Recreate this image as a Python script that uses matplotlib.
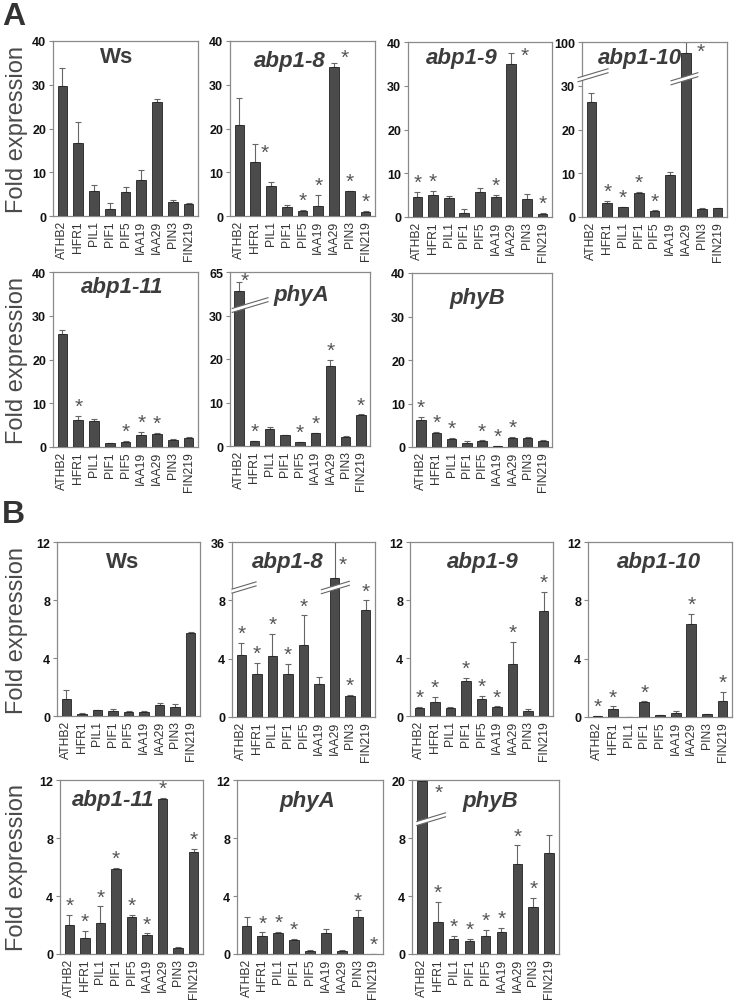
import matplotlib

matplotlib.use("Agg")
import matplotlib.pyplot as plt
import matplotlib.transforms as mtransforms
import numpy as np

plt.rcParams["font.family"] = ["Liberation Sans", "DejaVu Sans"]

genes = ["ATHB2", "HFR1", "PIL1", "PIF1", "PIF5", "IAA19", "IAA29", "PIN3", "FIN219"]

# star codes: 0 none, 1 above the bar, 2 placed beside the bar top
# --- panel A -------------------------------------------------------------------
a_ws_val = [29.8, 16.6, 5.7, 1.5, 5.5, 8.3, 26.0, 3.1, 2.8]
a_ws_sd = [4.1, 4.9, 1.4, 1.4, 1.1, 2.2, 0.8, 0.6, 0.1]
a_ws_star = [0, 0, 0, 0, 0, 0, 0, 0, 0]

a_abp18_val = [20.7, 12.4, 6.9, 2.1, 1.1, 2.3, 34.0, 5.7, 1.0]
a_abp18_sd = [6.3, 4.1, 0.9, 0.4, 0.2, 2.5, 0.9, 0.1, 0.1]
a_abp18_star = [0, 2, 0, 0, 1, 1, 2, 1, 1]

a_abp19_val = [4.5, 5.0, 4.4, 0.9, 5.7, 4.6, 35.0, 4.2, 0.8]
a_abp19_sd = [1.2, 1.0, 0.3, 0.9, 0.9, 0.4, 2.6, 1.0, 0.1]
a_abp19_star = [1, 1, 0, 0, 0, 1, 2, 0, 1]

a_abp110_val = [26.2, 3.1, 2.2, 5.5, 1.4, 9.5, 82.0, 1.9, 2.0]
a_abp110_sd = [2.2, 0.6, 0.2, 0.2, 0.1, 0.9, 18.0, 0.1, 0.1]
a_abp110_star = [0, 1, 1, 1, 1, 0, 2, 0, 0]

a_abp111_val = [25.8, 6.2, 6.0, 0.9, 1.1, 2.7, 3.0, 1.6, 2.0]
a_abp111_sd = [1.0, 0.9, 0.3, 0.1, 0.3, 0.7, 0.3, 0.3, 0.4]
a_abp111_star = [0, 1, 0, 0, 1, 1, 1, 0, 0]

a_phya_val = [50.0, 1.15, 4.0, 2.5, 0.85, 2.9, 18.4, 2.1, 7.1]
a_phya_sd = [7.3, 0.1, 0.35, 0.05, 0.05, 0.1, 1.4, 0.2, 0.15]
a_phya_star = [2, 1, 0, 0, 1, 1, 1, 0, 1]

a_phyb_val = [6.1, 3.3, 1.9, 0.9, 1.4, 0.2, 2.1, 2.1, 1.4]
a_phyb_sd = [0.8, 0.15, 0.2, 0.4, 0.1, 0.05, 0.2, 0.2, 0.1]
a_phyb_star = [1, 1, 1, 0, 1, 1, 1, 0, 0]

# --- panel B -------------------------------------------------------------------
b_ws_val = [1.14, 0.16, 0.39, 0.37, 0.30, 0.30, 0.73, 0.64, 5.71]
b_ws_sd = [0.62, 0.02, 0.02, 0.11, 0.07, 0.04, 0.18, 0.16, 0.07]
b_ws_star = [0, 0, 0, 0, 0, 0, 0, 0, 0]

b_abp18_val = [4.27, 2.97, 4.18, 2.97, 4.91, 2.29, 18.9, 1.44, 7.36]
b_abp18_sd = [0.80, 0.73, 1.52, 0.66, 2.06, 0.45, 17.1, 0.05, 0.64]
b_abp18_star = [1, 1, 1, 1, 1, 0, 2, 1, 1]

b_abp19_val = [0.53, 0.96, 0.57, 2.40, 1.14, 0.62, 3.61, 0.37, 7.27]
b_abp19_sd = [0.09, 0.37, 0.07, 0.23, 0.23, 0.04, 1.49, 0.09, 1.30]
b_abp19_star = [1, 1, 0, 1, 1, 1, 1, 0, 1]

b_abp110_val = [0.05, 0.57, 0.02, 1.03, 0.11, 0.27, 6.40, 0.18, 1.10]
b_abp110_sd = [0.01, 0.16, 0.0, 0.04, 0.02, 0.12, 0.66, 0.02, 0.61]
b_abp110_star = [1, 1, 0, 1, 0, 0, 1, 0, 1]

b_abp111_val = [2.02, 1.08, 2.11, 5.83, 2.57, 1.33, 10.71, 0.39, 7.06]
b_abp111_sd = [0.66, 0.52, 1.17, 0.13, 0.13, 0.09, 0.07, 0.07, 0.16]
b_abp111_star = [1, 1, 1, 1, 1, 1, 1, 0, 1]

b_phya_val = [1.90, 1.26, 1.42, 0.94, 0.23, 1.42, 0.18, 2.52, 0.03]
b_phya_sd = [0.62, 0.23, 0.12, 0.09, 0.02, 0.30, 0.07, 0.51, 0.0]
b_phya_star = [0, 1, 1, 1, 0, 0, 0, 1, 1]

b_phyb_val = [19.7, 2.21, 1.04, 0.90, 1.22, 1.52, 6.22, 3.25, 6.98]
b_phyb_sd = [0.6, 1.36, 0.18, 0.14, 0.42, 0.28, 1.27, 0.62, 1.62]
b_phyb_star = [2, 1, 1, 1, 1, 1, 1, 1, 0]

# --- layout (pixel boxes: left, top, right, bottom) ---------------------------
W, H = 734, 1004
BAR = "#4b4b4b"
GREY = "#555555"

panels = [
    # title, italic, data, box, ticks, break(b, k, top), title pos, side-star pos {idx: (dx, y)}
    dict(title="Ws", it=False, d=(a_ws_val, a_ws_sd, a_ws_star), box=(53, 42, 198, 217),
         ticks=[0, 10, 20, 30, 40], brk=None, tpos=(0.44, 0.91)),
    dict(title="abp1-8", it=True, d=(a_abp18_val, a_abp18_sd, a_abp18_star), box=(230, 42, 375, 217),
         ticks=[0, 10, 20, 30, 40], brk=None, tpos=(0.41, 0.89), side={1: (0.6, 14.5), 6: (0.65, 36.2)}),
    dict(title="abp1-9", it=True, d=(a_abp19_val, a_abp19_sd, a_abp19_star), box=(408, 43, 552, 218),
         ticks=[0, 10, 20, 30, 40], brk=None, tpos=(0.37, 0.91), side={6: (0.88, 37.0)}),
    dict(title="abp1-10", it=True, d=(a_abp110_val, a_abp110_sd, a_abp110_star), box=(582, 43, 727, 218),
         ticks=[0, 10, 20, 30, 100], brk=(30, 10 / 70, 100), tpos=(0.40, 0.91), side={6: (0.92, 85.0)},
         marks=[(-0.85, 1.05, 0.81), (6 - 0.95, 6 + 0.75, 0.79)]),
    dict(title="abp1-11", it=True, d=(a_abp111_val, a_abp111_sd, a_abp111_star), box=(53, 273, 198, 448),
         ticks=[0, 10, 20, 30, 40], brk=None, tpos=(0.48, 0.92)),
    dict(title="phyA", it=True, d=(a_phya_val, a_phya_sd, a_phya_star), box=(230, 273, 370, 447),
         ticks=[0, 10, 20, 30, 65], brk=(30, 10 / 35, 65), tpos=(0.51, 0.87), side={0: (0.38, 58.0)},
         marks=[(-0.45, 1.9, 0.81)]),
    dict(title="phyB", it=True, d=(a_phyb_val, a_phyb_sd, a_phyb_star), box=(412, 274, 552, 448),
         ticks=[0, 10, 20, 30, 40], brk=None, tpos=(0.47, 0.86)),
    dict(title="Ws", it=False, d=(b_ws_val, b_ws_sd, b_ws_star), box=(57, 543, 200, 717),
         ticks=[0, 4, 8, 12], brk=None, tpos=(0.46, 0.89)),
    dict(title="abp1-8", it=True, d=(b_abp18_val, b_abp18_sd, b_abp18_star), box=(232, 543, 375, 718),
         ticks=[0, 4, 8, 36], brk=(8, 4 / 28, 36), tpos=(0.39, 0.89), side={6: (0.5, 25.5)},
         marks=[(-0.6, 0.95, 0.74), (6 - 0.85, 6 + 0.95, 0.74)]),
    dict(title="abp1-9", it=True, d=(b_abp19_val, b_abp19_sd, b_abp19_star), box=(410, 543, 553, 717),
         ticks=[0, 4, 8, 12], brk=None, tpos=(0.51, 0.89)),
    dict(title="abp1-10", it=True, d=(b_abp110_val, b_abp110_sd, b_abp110_star), box=(588, 543, 732, 718),
         ticks=[0, 4, 8, 12], brk=None, tpos=(0.49, 0.89)),
    dict(title="abp1-11", it=True, d=(b_abp111_val, b_abp111_sd, b_abp111_star), box=(60, 781, 203, 955),
         ticks=[0, 4, 8, 12], brk=None, tpos=(0.37, 0.89)),
    dict(title="phyA", it=True, d=(b_phya_val, b_phya_sd, b_phya_star), box=(237, 781, 383, 955),
         ticks=[0, 4, 8, 12], brk=None, tpos=(0.48, 0.88)),
    dict(title="phyB", it=True, d=(b_phyb_val, b_phyb_sd, b_phyb_star), box=(412, 781, 559, 955),
         ticks=[0, 4, 8, 20], brk=(8, 4 / 12, 20), tpos=(0.53, 0.88), side={0: (1.1, 17.4)},
         marks=[(-0.3, 1.5, 0.775)]),
]


def piecewise(b, k):
    def fwd(v):
        v = np.asarray(v, dtype=float)
        return np.where(v <= b, v, b + (v - b) * k)

    def inv(d):
        d = np.asarray(d, dtype=float)
        return np.where(d <= b, d, b + (d - b) / k)

    return fwd, inv


def break_mark(ax, x0, x1, yc):
    # two parallel slashes with a white gap, x in data units, y in axes fraction
    tr = mtransforms.blended_transform_factory(ax.transData, ax.transAxes)
    wpx = ax.bbox.width / 9.2
    hpx = ax.bbox.height
    dy = 0.3 * (x1 - x0) * wpx / hpx
    g = 4.0 / hpx
    ya, yb = yc - dy / 2, yc + dy / 2
    ax.fill([x0, x1, x1, x0], [ya - g / 2, yb - g / 2, yb + g / 2, ya + g / 2], color="white",
            transform=tr, clip_on=False, zorder=6, lw=0)
    for s in (-g / 2, g / 2):
        ax.plot([x0, x1], [ya + s, yb + s], color="#666666", lw=0.8, transform=tr,
                clip_on=False, zorder=7)


fig = plt.figure(figsize=(W / 100, H / 100), dpi=100)
x = np.arange(len(genes))

for p in panels:
    l, t, r, b = p["box"]
    ax = fig.add_axes([l / W, 1 - b / H, (r - l) / W, (b - t) / H])
    val, sd, star = (np.asarray(a, dtype=float) for a in p["d"])
    top = p["ticks"][-1]
    if p["brk"] is not None:
        bb, kk, top = p["brk"]
        ax.set_yscale("function", functions=piecewise(bb, kk))
    ax.bar(x, val, width=0.62, color=BAR, edgecolor="#222222", linewidth=0.6, zorder=3)
    ax.errorbar(x, val, yerr=[np.zeros_like(sd), sd], fmt="none", ecolor="#666666",
                elinewidth=0.8, capsize=2, capthick=0.8, zorder=2)
    side = p.get("side", {})
    for i, s in enumerate(star):
        if s == 1:
            ax.annotate("*", xy=(i, val[i] + sd[i]), xytext=(0, 0), textcoords="offset points",
                        ha="center", va="bottom", fontsize=15, color=GREY, zorder=8)
        elif s == 2:
            dx, yy = side[i]
            ax.text(i + dx, yy, "*", ha="center", va="center", fontsize=15, color=GREY,
                    zorder=8, clip_on=False)
    ax.set_xlim(-0.6, len(genes) - 0.4)
    ax.set_ylim(0, top)
    ax.set_yticks(p["ticks"])
    ax.set_yticklabels([str(v) for v in p["ticks"]], fontsize=9, fontweight="bold", color="#111111")
    ax.minorticks_off()
    ax.set_xticks(x)
    ax.set_xticklabels(genes, rotation=90, fontsize=8.7, color="#333333")
    ax.tick_params(axis="x", length=0, pad=3)
    ax.tick_params(axis="y", length=3, width=0.8, color="#888888", pad=2)
    for sp in ax.spines.values():
        sp.set_color("#8a8a8a")
        sp.set_linewidth(0.9)
    ax.text(p["tpos"][0], p["tpos"][1], p["title"], transform=ax.transAxes, ha="center", va="center",
            fontsize=16, fontweight="bold", style="italic" if p["it"] else "normal", color="#3c3c3c",
            zorder=9)
    for m in p.get("marks", []):
        break_mark(ax, *m)

# y labels of the leftmost columns
for yc in ((42 + 217) / 2, (273 + 448) / 2, (543 + 717) / 2, (781 + 955) / 2):
    fig.text(17 / W, 1 - yc / H, "Fold expression", rotation=90, ha="center", va="center",
             fontsize=17, color="#4a4a4a")

fig.text(2 / W, 1 - 17 / H, "A", fontsize=23, fontweight="bold", color="#333333", ha="left", va="center")
fig.text(2 / W, 1 - 515 / H, "B", fontsize=23, fontweight="bold", color="#333333", ha="left", va="center")

fig.savefig("out.png", dpi=100)
